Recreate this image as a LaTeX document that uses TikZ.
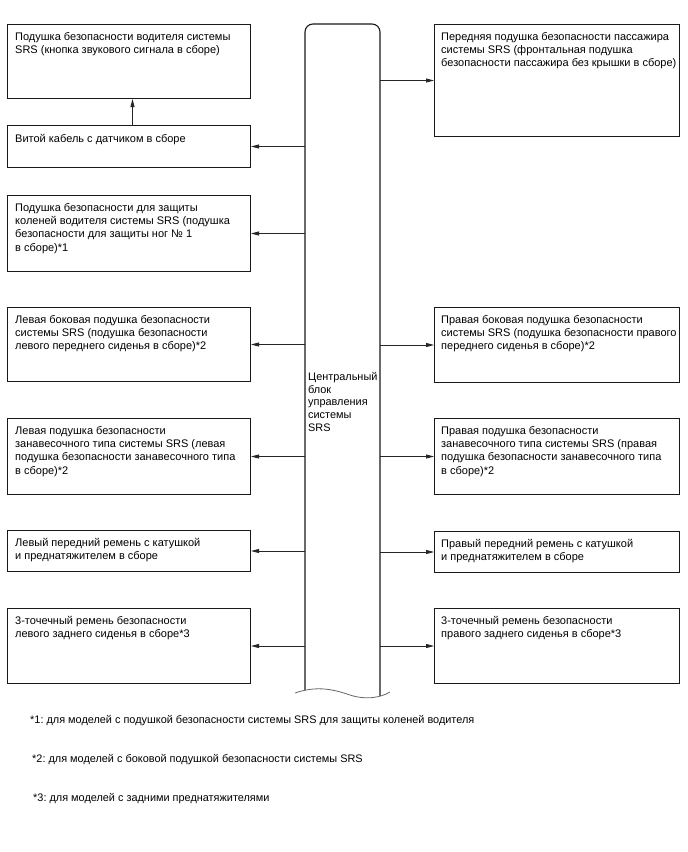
\documentclass[tikz,border=0pt]{standalone}
\usepackage{fontspec}
\setmainfont{Liberation Sans}
\usetikzlibrary{arrows.meta}
\frenchspacing
\begin{document}
\begin{tikzpicture}[x=1pt,y=-1pt,
  box/.style={draw=black!90,line width=1pt,rectangle,inner sep=0pt,anchor=north west},
  txt/.style={anchor=north west,inner sep=0pt,align=left,font=\fontsize{11}{13.3}\selectfont},
  fn/.style={anchor=base west,inner sep=0pt,font=\fontsize{10.9}{13}\selectfont},
  conn/.style={draw=black!85,line width=0.8pt,-{Triangle[length=8pt,width=4pt]}}]
\useasboundingbox (0,0) rectangle (688,852);
% left boxes
\node[box,minimum width=243pt,minimum height=74pt] (L1) at (7,24) {};
\node[box,minimum width=243pt,minimum height=42pt] (L2) at (7,125) {};
\node[box,minimum width=243pt,minimum height=76pt] (L3) at (7,195) {};
\node[box,minimum width=243pt,minimum height=74pt] (L4) at (7,307) {};
\node[box,minimum width=243pt,minimum height=76pt] (L5) at (7,418) {};
\node[box,minimum width=243pt,minimum height=41pt] (L6) at (7,530) {};
\node[box,minimum width=243pt,minimum height=75pt] (L7) at (7,608) {};
% right boxes
\node[box,minimum width=245pt,minimum height=112pt] (R1) at (434,24) {};
\node[box,minimum width=245pt,minimum height=75pt] (R2) at (434,307) {};
\node[box,minimum width=245pt,minimum height=76pt] (R3) at (434,418) {};
\node[box,minimum width=245pt,minimum height=41pt] (R4) at (434,531) {};
\node[box,minimum width=245pt,minimum height=75pt] (R5) at (434,608) {};
% texts
\node[txt] (tL1) at ([shift={(8,8)}]L1.north west) {Подушка безопасности водителя системы\\SRS (кнопка звукового сигнала в сборе)};
\node[txt] (tL2) at ([shift={(8,9)}]L2.north west) {Витой кабель с датчиком в сборе};
\node[txt] (tL3) at ([shift={(8,8)}]L3.north west) {Подушка безопасности для защиты\\коленей водителя системы SRS (подушка\\безопасности для защиты ног № 1\\в сборе)*1};
\node[txt] (tL4) at ([shift={(8,8)}]L4.north west) {Левая боковая подушка безопасности\\системы SRS (подушка безопасности\\левого переднего сиденья в сборе)*2};
\node[txt] (tL5) at ([shift={(8,8)}]L5.north west) {Левая подушка безопасности\\занавесочного типа системы SRS (левая\\подушка безопасности занавесочного типа\\в сборе)*2};
\node[txt] (tL6) at ([shift={(8,8)}]L6.north west) {Левый передний ремень с катушкой\\и преднатяжителем в сборе};
\node[txt] (tL7) at ([shift={(8,8)}]L7.north west) {3-точечный ремень безопасности\\левого заднего сиденья в сборе*3};
\node[txt] (tR1) at ([shift={(7,8)}]R1.north west) {Передняя подушка безопасности пассажира\\системы SRS (фронтальная подушка\\безопасности пассажира без крышки в сборе)};
\node[txt] (tR2) at ([shift={(7,8)}]R2.north west) {Правая боковая подушка безопасности\\системы SRS (подушка безопасности правого\\переднего сиденья в сборе)*2};
\node[txt] (tR3) at ([shift={(7,8)}]R3.north west) {Правая подушка безопасности\\занавесочного типа системы SRS (правая\\подушка безопасности занавесочного типа\\в сборе)*2};
\node[txt] (tR4) at ([shift={(7,8)}]R4.north west) {Правый передний ремень с катушкой\\и преднатяжителем в сборе};
\node[txt] (tR5) at ([shift={(7,8)}]R5.north west) {3-точечный ремень безопасности\\правого заднего сиденья в сборе*3};
% central block
\node[inner sep=0pt,minimum width=75pt,minimum height=669pt,anchor=north west] (ecu) at (305,24) {};
\draw[line width=1.1pt,black!90] (305,690) -- (305,32) arc[start angle=180,end angle=90,radius=8pt] -- (372,24) arc[start angle=90,end angle=0,radius=8pt] -- (380,696);
\draw[line width=0.8pt,black!60] (295,693) .. controls (318,685) and (335,690) .. (350,695) .. controls (365,700) and (380,698) .. (390,692);
\node[txt,font=\fontsize{10.9}{12.8}\selectfont] (ecut) at (308,372) {Центральный\\блок\\управления\\системы\\SRS};
% connectors
\draw[conn] ([xshift=3.5pt]L2.north) -- ([xshift=3.5pt]L1.south);
\foreach \b in {L2,L3,L4,L5,L6,L7}{
  \draw[conn] (ecu.west |- \b.east) -- (\b.east);
}
\foreach \b in {R1,R2,R3,R4,R5}{
  \draw[conn] (ecu.east |- \b.west) -- (\b.west);
}
% footnotes
\node[fn] (f1) at (30,723) {*1: для моделей с подушкой безопасности системы SRS для защиты коленей водителя};
\node[fn] (f2) at (32,762) {*2: для моделей с боковой подушкой безопасности системы SRS};
\node[fn] (f3) at (33,801) {*3: для моделей с задними преднатяжителями};
\end{tikzpicture}
\end{document}
